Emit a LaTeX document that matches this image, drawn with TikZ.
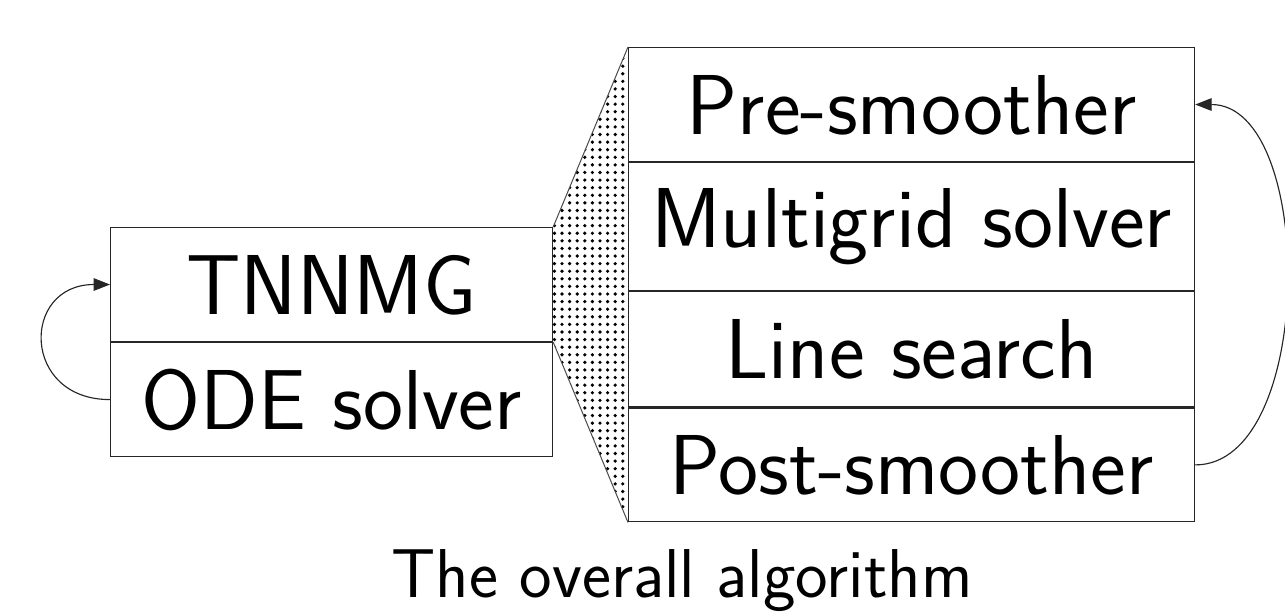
\documentclass[tikz,border=0pt]{standalone}
\usetikzlibrary{patterns,arrows.meta}
% dot fill for the zoom wedge, heavier than the stock 'dots'
\pgfdeclarepatternformonly{bolddots}{\pgfqpoint{-1pt}{-1pt}}{\pgfqpoint{1pt}{1pt}}{\pgfqpoint{3pt}{3pt}}{%
  \pgfpathcircle{\pgfqpoint{0pt}{0pt}}{0.72pt}\pgfusepath{fill}}
\begin{document}
\begin{tikzpicture}[x=0.395pt,y=-0.395pt,
  block/.style={draw=black!85, line width=0.45pt, inner sep=0pt,
    text height=23.3pt, text depth=0pt,
    font=\sffamily\fontsize{33.6pt}{40pt}\selectfont},
  lblock/.style={block, minimum width=174.6pt, minimum height=45pt, anchor=north west},
  rblock/.style={block, minimum width=223.6pt, anchor=north west},
  loop/.style={draw=black!85, line width=0.45pt,
    -{Triangle[length=6.5pt,width=5pt]}},
  zoomedge/.style={draw=black!70, line width=0.4pt}]
\useasboundingbox (0,0) rectangle (1285,613);

% outer algorithm
\node[lblock] (tnnmg) at (110,227) {TNNMG};
\node[lblock] (ode) at (tnnmg.south west) {ODE solver};

% inner TNNMG step
\node[rblock, minimum height=45pt] (pre) at (628,47) {Pre-smoother};
\node[rblock, minimum height=50.6pt, text depth=6.7pt] (mg) at (pre.south west) {Multigrid solver};
\node[rblock, minimum height=45.4pt] (ls) at (mg.south west) {Line search};
\node[rblock, minimum height=45pt] (post) at (ls.south west) {Post-smoother};

% zoom wedge from TNNMG to its components
\path[pattern=bolddots] (tnnmg.north east) -- (pre.north west) -- (post.south west) -- (tnnmg.south east) -- cycle;
\draw[zoomedge] (tnnmg.north east) -- (pre.north west);
\draw[zoomedge] (tnnmg.south east) -- (post.south west);

% iteration loops
\draw[loop] (ode.west) .. controls +(-89,0) and +(-89,0) .. (tnnmg.west);
\draw[loop] (post.east) .. controls +(121,0) and +(121,0) .. (pre.east);

\node[inner sep=0pt, text height=18.9pt, text depth=0pt,
  font=\sffamily\fontsize{27.3pt}{33pt}\selectfont] (caption) at (682,574) {The overall algorithm};
\end{tikzpicture}
\end{document}
